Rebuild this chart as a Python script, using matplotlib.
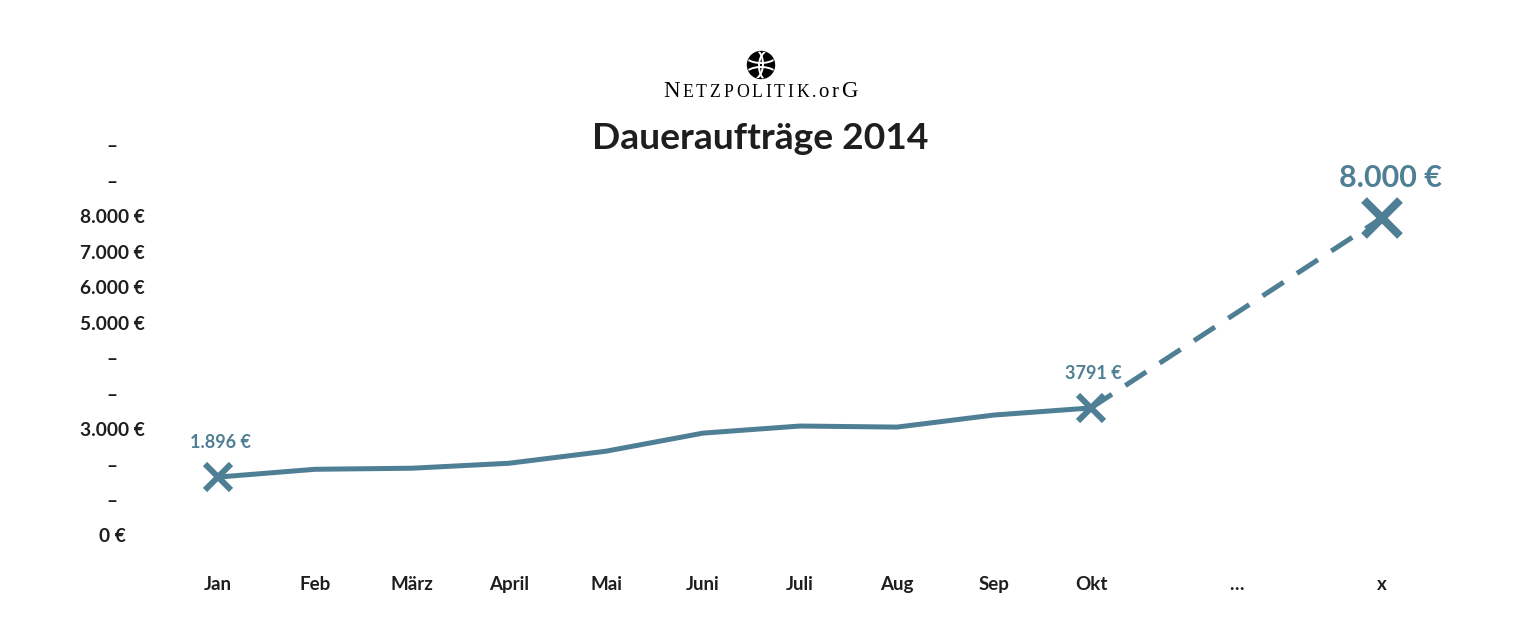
import numpy as np
import matplotlib.pyplot as plt
from matplotlib.patches import Circle
from matplotlib.transforms import blended_transform_factory

# Daten
months = ["Jan", "Feb", "März", "April", "Mai", "Juni", "Juli", "Aug", "Sep", "Okt"]
month_pos = [0, 1, 2, 3, 4, 5, 6, 7, 8, 9]
values = [1690, 1910, 1940, 2080, 2420, 2930, 3130, 3100, 3440, 3640]
extra_labels = ["…", "x"]
extra_pos = [10.5, 12]
goal_value = 9000

ytick_values = [0, 1000, 2000, 3000, 4000, 5000, 6000, 7000, 8000, 9000, 10000, 11000]
ytick_labels = ["0 €", "–", "–", "3.000 €", "–", "–", "5.000 €", "6.000 €",
                "7.000 €", "8.000 €", "–", "–"]

start_label = "1.896 €"
okt_label = "3791 €"
goal_label = "8.000 €"

BLUE = "#4f7f94"
DARK = "#1e1e1e"

plt.rcParams["font.family"] = ["Lato", "DejaVu Sans"]

W, H = 1521, 642
fig = plt.figure(figsize=(W / 100, H / 100), dpi=100)

# axes: x 0 -> 218px, 12 -> 1382px ; y 0 -> 537px, 11000 -> 147px
px_x = (1382 - 218) / 12.0
px_y = (537 - 147) / 11000.0
x0, x1 = -1, 13
y0, y1 = -1000, 12000
left = 218 + x0 * px_x
right = 218 + x1 * px_x
bottom = 537 - y0 * px_y
top = 537 - y1 * px_y
ax = fig.add_axes([left / W, 1 - bottom / H, (right - left) / W, (bottom - top) / H])
ax.set_xlim(x0, x1)
ax.set_ylim(y0, y1)
for s in ax.spines.values():
    s.set_visible(False)
ax.set_yticks([])
ax.set_xticks(month_pos + extra_pos, months + extra_labels)
ax.tick_params(axis="x", length=0, pad=2.5, labelsize=13.5, colors=DARK)
for lab in ax.get_xticklabels():
    lab.set_fontweight("bold")

# y labels, zentriert
ytrans = blended_transform_factory(fig.transFigure, ax.transData)
for v, lab in zip(ytick_values, ytick_labels):
    ax.text(112 / W, v, lab, transform=ytrans, ha="center", va="center",
            fontsize=13.8, fontweight="bold", color=DARK)

# Linie
ax.plot(month_pos, values, color=BLUE, lw=3.6, solid_capstyle="butt", zorder=2)
ax.plot([month_pos[-1], extra_pos[-1]], [values[-1], goal_value], color=BLUE, lw=3.6,
        dashes=(5, 3.2), zorder=2)
ax.plot([month_pos[0], month_pos[-1]], [values[0], values[-1]], ls="none", marker="x",
        ms=19, mew=4.3, color=BLUE, zorder=3)
ax.plot([extra_pos[-1]], [goal_value], ls="none", marker="x", ms=26, mew=5.8,
        color=BLUE, zorder=3)

ax.annotate(start_label, (month_pos[0], values[0]), xytext=(2, 19), textcoords="offset points",
            ha="center", va="bottom", fontsize=13, fontweight="bold", color=BLUE)
ax.annotate(okt_label, (month_pos[-1], values[-1]), xytext=(2, 19), textcoords="offset points",
            ha="center", va="bottom", fontsize=13, fontweight="bold", color=BLUE)
ax.annotate(goal_label, (extra_pos[-1], goal_value), xytext=(6, 19), textcoords="offset points",
            ha="center", va="bottom", fontsize=22, fontweight="bold", color=BLUE)

# Titel
fig.text(0.5, 1 - 149 / H, "Daueraufträge 2014", ha="center", va="baseline",
         fontsize=26.8, fontweight="bold", color=DARK)

# Logo
lax = fig.add_axes([0, 0, 1, 1], facecolor="none")
lax.set_xlim(0, W)
lax.set_ylim(H, 0)
lax.axis("off")
gx, gy, gr = 761, 65, 13.5
disk = Circle((gx, gy), gr, color="black")
lax.add_patch(disk)
t = np.linspace(0, 2 * np.pi, 200)
# Meridiane und Breitengrade (weiß, auf die Kugel beschnitten)
for cx, cy, rx, ry in [(gx + 9, gy + 1, 11, 16), (gx - 9, gy - 1, 11, 16),
                       (gx, gy + 10, 16, 8), (gx, gy - 10, 16, 8)]:
    ln, = lax.plot(cx + rx * np.cos(t), cy + ry * np.sin(t), color="white", lw=1.4)
    ln.set_clip_path(disk)

serif = ["Liberation Serif", "DejaVu Serif"]
chars = [("N", 16.5)] + [(c, 12.8) for c in "ETZPOLITIK."] + [("o", 15), ("r", 15), ("G", 16.5)]
fig.canvas.draw()
renderer = fig.canvas.get_renderer()
texts, widths = [], []
for c, fs in chars:
    tx = lax.text(0, 97, c, fontsize=fs, family=serif, ha="left", va="baseline", color="black")
    widths.append(tx.get_window_extent(renderer).width)
    texts.append(tx)
track = (858 - 663 - sum(widths)) / (len(chars) - 1)
xcur = 663
for tx, w in zip(texts, widths):
    tx.set_x(xcur)
    xcur += w + track

fig.savefig("out.png", dpi=100)
